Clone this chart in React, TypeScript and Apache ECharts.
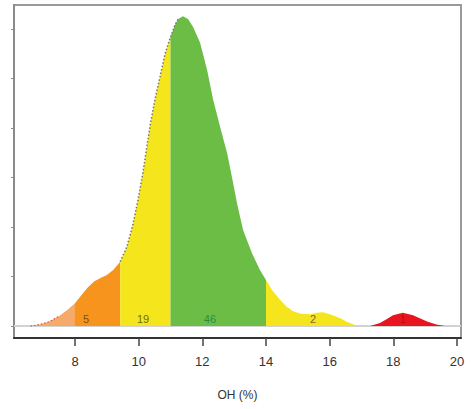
import React, { useEffect, useRef } from "react";
import * as echarts from "echarts";

// Density curve: [OH %, density (tick units)]
const densityMain: [number, number][] = [
  [6.6, 0], [6.9, 0.03], [7.2, 0.09], [7.5, 0.2], [7.75, 0.32], [8.0, 0.46],
  [8.2, 0.62], [8.4, 0.78], [8.6, 0.9], [8.8, 0.97], [9.0, 1.03], [9.2, 1.13],
  [9.42, 1.3], [9.63, 1.6], [9.82, 2.05], [9.98, 2.55], [10.14, 3.12], [10.2, 3.38],
  [10.36, 4.05], [10.51, 4.57], [10.67, 5.03], [10.83, 5.5], [11.0, 5.84], [11.14, 6.08],
  [11.24, 6.2], [11.39, 6.26], [11.55, 6.2], [11.71, 6.04], [11.93, 5.72], [12.15, 5.17],
  [12.34, 4.57], [12.56, 4.02], [12.78, 3.49], [12.93, 3.01], [13.09, 2.48], [13.28, 1.94],
  [13.56, 1.47], [13.81, 1.13], [14.0, 0.93], [14.2, 0.72], [14.44, 0.53], [14.65, 0.39],
  [14.85, 0.3], [15.1, 0.25], [15.38, 0.24], [15.6, 0.27], [15.79, 0.28], [16.05, 0.23],
  [16.32, 0.16], [16.55, 0.08], [16.8, 0.02], [17.0, 0],
];
const densityRed: [number, number][] = [
  [17.27, 0], [17.58, 0.06], [17.8, 0.14], [17.99, 0.22], [18.3, 0.27], [18.62, 0.22],
  [18.85, 0.15], [19.06, 0.09], [19.35, 0.03], [19.62, 0],
];

// Class boundaries (OH %)
const bounds = [6.6, 8.0, 9.42, 11.0, 14.0, 17.0];
const classColors = ["#f6a968", "#f7941e", "#f4e51c", "#6bbd45", "#f4e51c"];
const redColor = "#e8141f";

// Count labels
const labelX = [8.35, 10.14, 12.24, 15.48, 18.3];
const labelText = ["5", "19", "46", "2", "1"];
const labelY = 0.14;
const labelColors = ["#5a3a10", "#4a4a10", "#11804a", "#4a4a30", "#a01010"];

// Axis ticks
const xTicks = [8, 10, 12, 14, 16, 18, 20];
const yTicks = [0, 1, 2, 3, 4, 5, 6];

const X_MIN = 6.084;
const X_MAX = 20.126;
const Y_MIN = -0.242;
const Y_MAX = 6.485;

const FONT = "Liberation Sans, Arial, sans-serif";

export default function App() {
  const ref = useRef<HTMLDivElement>(null);

  useEffect(() => {
    if (!ref.current) return;
    const chart = echarts.init(ref.current, undefined, { renderer: "svg" });

    const seg = (a: number, b: number) =>
      densityMain.filter((p) => p[0] >= a - 1e-9 && p[0] <= b + 1e-9);

    const areaSeries: any[] = classColors.map((c, i) => ({
      type: "line",
      data: seg(bounds[i], bounds[i + 1]),
      symbol: "none",
      smooth: false,
      silent: true,
      lineStyle: { width: 0, color: c },
      areaStyle: { color: c, opacity: 1 },
      z: 3,
    }));

    const option: any = {
      animation: false,
      grid: {
        left: 14,
        right: 11,
        top: 5,
        bottom: 71,
        show: true,
        borderColor: "#9a9a9a",
        borderWidth: 2,
        backgroundColor: "#fff",
      },
      xAxis: {
        type: "value",
        min: X_MIN,
        max: X_MAX,
        name: "OH (%)",
        nameLocation: "middle",
        nameGap: 51,
        nameTextStyle: { fontFamily: FONT, fontSize: 12, color: "#333" },
        axisLine: { show: true, onZero: false, lineStyle: { color: "#333", width: 2 } },
        axisTick: {
          show: true,
          length: 8,
          customValues: xTicks,
          lineStyle: { color: "#444", width: 1.5 },
        },
        axisLabel: {
          customValues: xTicks,
          margin: 17,
          fontFamily: FONT,
          fontSize: 13,
          color: "#333",
        },
        splitLine: { show: false },
      },
      yAxis: {
        type: "value",
        min: Y_MIN,
        max: Y_MAX,
        axisLine: { show: true, onZero: false, lineStyle: { color: "#8a8a8a", width: 2 } },
        axisTick: {
          show: true,
          length: 3,
          customValues: yTicks,
          lineStyle: { color: "#8a8a8a", width: 1 },
        },
        axisLabel: { show: false, customValues: yTicks },
        splitLine: { show: false },
      },
      series: [
        {
          type: "line",
          data: [
            [X_MIN, 0],
            [X_MAX, 0],
          ],
          symbol: "none",
          silent: true,
          lineStyle: { color: "#d2d2d2", width: 2 },
          z: 2,
        },
        ...areaSeries,
        {
          type: "line",
          data: densityRed,
          symbol: "none",
          silent: true,
          lineStyle: { width: 0, color: redColor },
          areaStyle: { color: redColor, opacity: 1 },
          z: 3,
        },
        {
          type: "line",
          data: densityMain.filter((p) => p[0] >= 9.42 && p[0] <= 11.24),
          symbol: "none",
          silent: true,
          lineStyle: { color: "#777", width: 1.5, type: [1.5, 2] },
          z: 4,
        },
        {
          type: "line",
          data: densityMain.filter((p) => p[0] <= 7.6),
          symbol: "none",
          silent: true,
          lineStyle: { color: "#d85040", width: 1.2, type: [1.5, 2] },
          z: 4,
        },
        {
          type: "scatter",
          symbolSize: 0,
          silent: true,
          z: 5,
          data: labelX.map((x, i) => ({
            value: [x, labelY],
            label: { color: labelColors[i] },
          })),
          label: {
            show: true,
            position: "inside",
            fontFamily: FONT,
            fontSize: 11,
            formatter: (p: any) => labelText[p.dataIndex],
          },
        },
      ],
    };

    chart.setOption(option);
    return () => chart.dispose();
  }, []);

  return (
    <div
      ref={ref}
      style={{ position: "fixed", left: 0, top: 0, width: 472, height: 409, background: "#fff" }}
    />
  );
}
